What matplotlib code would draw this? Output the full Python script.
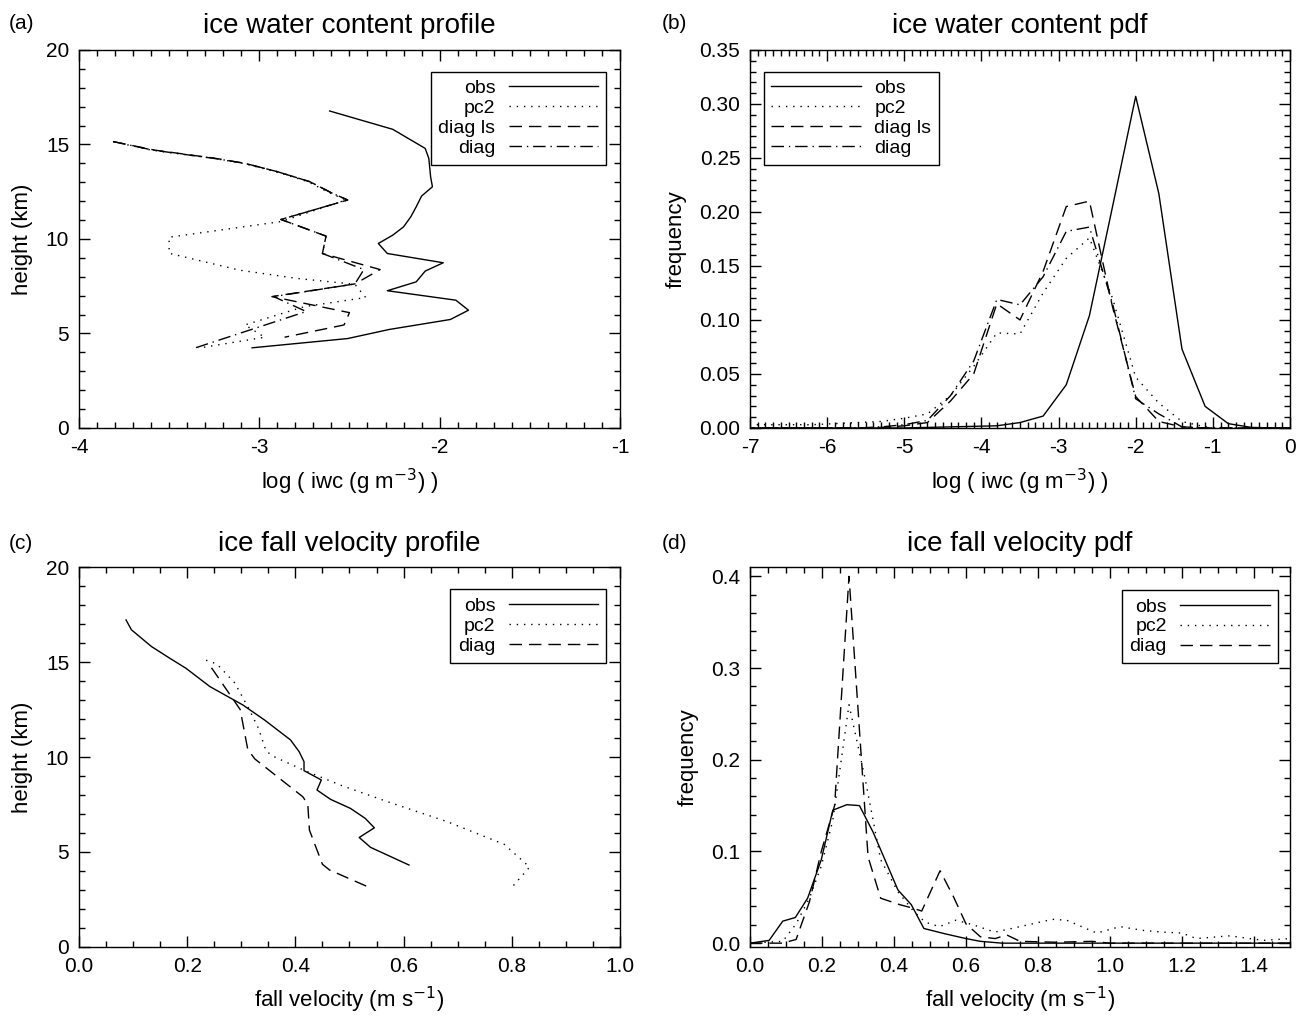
import matplotlib
matplotlib.use("Agg")
import matplotlib.pyplot as plt
from matplotlib.ticker import MultipleLocator, FormatStrFormatter

plt.rcParams["font.family"] = ["Liberation Sans", "DejaVu Sans"]
plt.rcParams["axes.unicode_minus"] = False

# (a) ice water content profile: log10(iwc) vs height (km)
obs_a_h = [16.77, 15.80, 14.79, 14.26, 13.29, 12.76, 12.27, 11.70, 11.17, 10.64, 10.20, 9.76,
           9.23, 8.74, 8.30, 7.73, 7.26, 6.76, 6.23, 5.74, 5.21, 4.73, 4.24]
obs_a_x = [-2.61, -2.26, -2.08, -2.06, -2.05, -2.04, -2.10, -2.13, -2.16, -2.20, -2.26, -2.34,
           -2.29, -1.98, -2.08, -2.13, -2.29, -1.91, -1.84, -1.94, -2.28, -2.51, -3.04]
pc2_a_h = [15.15, 14.70, 14.26, 14.00, 13.56, 13.03, 12.44, 12.06, 10.92, 10.09, 9.24, 8.35,
           7.91, 7.60, 6.90, 6.42, 5.45, 4.80, 4.22]
pc2_a_x = [-3.81, -3.60, -3.25, -3.09, -2.91, -2.73, -2.61, -2.52, -2.88, -3.50, -3.50, -3.11,
           -2.79, -2.47, -2.41, -2.75, -3.08, -2.97, -3.34]
diagls_a_h = [15.15, 14.70, 14.26, 14.00, 13.56, 13.03, 12.44, 12.06, 11.03, 10.15, 9.23, 8.38,
              7.62, 6.95, 6.10, 5.45, 4.80]
diagls_a_x = [-3.81, -3.58, -3.24, -3.08, -2.90, -2.72, -2.60, -2.51, -2.88, -2.63, -2.65, -2.33,
              -2.47, -2.93, -2.50, -2.53, -2.86]
diag_a_h = [15.15, 14.70, 14.26, 14.00, 13.56, 13.03, 12.44, 12.06, 11.03, 10.15, 9.23, 8.38,
            7.62, 6.95, 6.16, 5.19, 4.22]
diag_a_x = [-3.81, -3.59, -3.25, -3.08, -2.90, -2.72, -2.60, -2.51, -2.88, -2.63, -2.65, -2.42,
            -2.47, -2.92, -2.74, -3.05, -3.36]

# (b) ice water content pdf
iwc_bins = [-7.1, -6.8, -6.5, -6.2, -5.9, -5.6, -5.3, -5.0, -4.7, -4.4, -4.1, -3.8, -3.5,
            -3.2, -2.9, -2.6, -2.3, -2.0, -1.7, -1.4, -1.1, -0.8, -0.5, -0.2, 0.1]
obs_b = [0, 0, 0, 0, 0, 0, 0, 0, 0.0005, 0.001, 0.0015, 0.002, 0.005,
         0.011, 0.040, 0.104, 0.205, 0.307, 0.217, 0.073, 0.020, 0.004, 0.0005, 0, 0]
pc2_b = [0.003, 0.003, 0.003, 0.003, 0.004, 0.005, 0.006, 0.009, 0.013, 0.030, 0.057, 0.088, 0.087,
         0.125, 0.157, 0.176, 0.120, 0.047, 0.023, 0.006, 0.001, 0, 0, 0, 0]
diagls_b = [0, 0, 0, 0, 0, 0, 0.0005, 0.002, 0.005, 0.025, 0.050, 0.115, 0.100,
            0.145, 0.205, 0.210, 0.112, 0.029, 0.006, 0.001, 0, 0, 0, 0, 0]
diag_b = [0, 0, 0, 0, 0, 0, 0.001, 0.003, 0.007, 0.030, 0.062, 0.119, 0.114,
          0.140, 0.182, 0.186, 0.115, 0.027, 0.013, 0.001, 0, 0, 0, 0, 0]

# (c) ice fall velocity profile
obs_c_h = [17.22, 16.70, 15.82, 15.20, 14.67, 13.71, 12.74, 11.95, 10.90, 10.28, 9.75, 9.28,
           8.79, 8.26, 7.77, 7.29, 6.77, 6.27, 5.76, 5.24, 4.31]
obs_c_v = [0.087, 0.097, 0.134, 0.168, 0.198, 0.242, 0.303, 0.343, 0.391, 0.407, 0.416, 0.416,
           0.448, 0.440, 0.465, 0.502, 0.529, 0.546, 0.518, 0.539, 0.610]
pc2_c_h = [15.1, 14.9, 13.9, 12.6, 11.5, 10.3, 10.0, 9.3, 8.5, 7.6, 6.6, 5.4, 4.2, 3.1]
pc2_c_v = [0.235, 0.255, 0.288, 0.313, 0.332, 0.346, 0.362, 0.416, 0.485, 0.575, 0.680, 0.786,
           0.833, 0.799]
diag_c_h = [14.7, 12.5, 10.4, 9.9, 7.9, 7.5, 6.15, 5.4, 4.35, 4.05, 3.1]
diag_c_v = [0.245, 0.298, 0.312, 0.325, 0.414, 0.423, 0.426, 0.436, 0.450, 0.463, 0.539]

# (d) ice fall velocity pdf
obs_d_v = [0.0, 0.053, 0.091, 0.126, 0.160, 0.198, 0.230, 0.269, 0.304, 0.342, 0.411, 0.448,
           0.483, 0.544, 0.600, 0.640, 0.70, 1.5]
obs_d_f = [0.0, 0.003, 0.024, 0.028, 0.049, 0.091, 0.145, 0.151, 0.150, 0.121, 0.058, 0.042,
           0.016, 0.010, 0.005, 0.002, 0.0, 0.0]
pc2_d_v = [0.0, 0.091, 0.128, 0.165, 0.198, 0.230, 0.275, 0.320, 0.363, 0.411, 0.454, 0.486,
           0.526, 0.572, 0.62, 0.68, 0.75, 0.84, 0.88, 0.963, 1.028, 1.09, 1.148, 1.20, 1.24,
           1.333, 1.426, 1.5]
pc2_d_f = [0.0, 0.002, 0.021, 0.049, 0.084, 0.134, 0.260, 0.179, 0.091, 0.056, 0.035, 0.023,
           0.018, 0.025, 0.020, 0.012, 0.018, 0.026, 0.025, 0.011, 0.018, 0.014, 0.012, 0.011, 0.005,
           0.008, 0.003, 0.005]
diag_d_v = [0.0, 0.09, 0.128, 0.165, 0.198, 0.235, 0.275, 0.328, 0.363, 0.416, 0.454, 0.477,
            0.528, 0.566, 0.600, 0.640, 0.681, 0.713, 0.750, 0.85, 0.95, 1.0, 1.5]
diag_d_f = [0, 0, 0.004, 0.045, 0.100, 0.150, 0.400, 0.094, 0.049, 0.042, 0.038, 0.035,
            0.079, 0.050, 0.021, 0.007, 0.005, 0.009, 0.002, 0.001, 0.002, 0, 0]

# line styles (IDL-like)
SOLID = "-"
DOT = (0, (1, 4.2))
DASH = (0, (9, 5))
DASHDOT = (0, (9, 3.5, 1, 3.5))
LW = 1.0

TICK_FS = 15
LABEL_FS = 16
TITLE_FS = 20
LEG_FS = 14

fig = plt.figure(figsize=(13.03, 10.17), dpi=100)
ax_a = fig.add_axes([0.0606, 0.5792, 0.4152, 0.3717])
ax_b = fig.add_axes([0.5756, 0.5792, 0.4144, 0.3717])
ax_c = fig.add_axes([0.0606, 0.0690, 0.4152, 0.3733])
ax_d = fig.add_axes([0.5756, 0.0690, 0.4144, 0.3733])


def style(ax, xmaj, xmin, ymaj, ymin, xfmt, yfmt):
    ax.xaxis.set_major_locator(MultipleLocator(xmaj))
    ax.xaxis.set_minor_locator(MultipleLocator(xmin))
    ax.yaxis.set_major_locator(MultipleLocator(ymaj))
    ax.yaxis.set_minor_locator(MultipleLocator(ymin))
    ax.xaxis.set_major_formatter(FormatStrFormatter(xfmt))
    ax.yaxis.set_major_formatter(FormatStrFormatter(yfmt))
    ax.tick_params(which="both", direction="in", top=True, right=True,
                   labelsize=TICK_FS, width=1.0)
    ax.tick_params(which="major", length=8, pad=7)
    ax.tick_params(which="minor", length=4)
    for s in ax.spines.values():
        s.set_linewidth(1.0)


def legend(ax, markerfirst, loc, anchor):
    leg = ax.legend(loc=loc, bbox_to_anchor=anchor, markerfirst=markerfirst, fancybox=False,
                    framealpha=1, edgecolor="black", fontsize=LEG_FS, handlelength=4.6,
                    handletextpad=0.7, labelspacing=0.12, borderpad=0.4, borderaxespad=0)
    leg.get_frame().set_linewidth(1.0)


# panel (a)
ax_a.plot(obs_a_x, obs_a_h, color="black", lw=LW, ls=SOLID, label="obs")
ax_a.plot(pc2_a_x, pc2_a_h, color="black", lw=LW, ls=DOT, label="pc2")
ax_a.plot(diagls_a_x, diagls_a_h, color="black", lw=LW, ls=DASH, label="diag ls")
ax_a.plot(diag_a_x, diag_a_h, color="black", lw=LW, ls=DASHDOT, label="diag")
ax_a.set_xlim(-4, -1)
ax_a.set_ylim(0, 20)
style(ax_a, 1, 0.1, 5, 1, "%d", "%d")
ax_a.set_xlabel("log ( iwc (g m$^{-3}$) )", fontsize=LABEL_FS, labelpad=7)
ax_a.set_ylabel("height (km)", fontsize=LABEL_FS, labelpad=9)
ax_a.set_title("ice water content profile", fontsize=TITLE_FS, pad=12)
legend(ax_a, False, "upper right", (0.9745, 0.9426))

# panel (b)
ax_b.plot(iwc_bins, obs_b, color="black", lw=LW, ls=SOLID, label="obs")
ax_b.plot(iwc_bins, pc2_b, color="black", lw=LW, ls=DOT, label="pc2")
ax_b.plot(iwc_bins, diagls_b, color="black", lw=LW, ls=DASH, label="diag ls")
ax_b.plot(iwc_bins, diag_b, color="black", lw=LW, ls=DASHDOT, label="diag")
ax_b.set_xlim(-7, 0)
ax_b.set_ylim(0, 0.35)
style(ax_b, 1, 0.1, 0.05, 0.01, "%d", "%.2f")
ax_b.set_xlabel("log ( iwc (g m$^{-3}$) )", fontsize=LABEL_FS, labelpad=7)
ax_b.set_ylabel("frequency", fontsize=LABEL_FS, labelpad=9)
ax_b.set_title("ice water content pdf", fontsize=TITLE_FS, pad=12)
legend(ax_b, True, "upper left", (0.025, 0.9426))

# panel (c)
ax_c.plot(obs_c_v, obs_c_h, color="black", lw=LW, ls=SOLID, label="obs")
ax_c.plot(pc2_c_v, pc2_c_h, color="black", lw=LW, ls=DOT, label="pc2")
ax_c.plot(diag_c_v, diag_c_h, color="black", lw=LW, ls=DASH, label="diag")
ax_c.set_xlim(0, 1)
ax_c.set_ylim(0, 20)
style(ax_c, 0.2, 0.05, 5, 1, "%.1f", "%d")
ax_c.set_xlabel("fall velocity (m s$^{-1}$)", fontsize=LABEL_FS, labelpad=7)
ax_c.set_ylabel("height (km)", fontsize=LABEL_FS, labelpad=9)
ax_c.set_title("ice fall velocity profile", fontsize=TITLE_FS, pad=12)
legend(ax_c, False, "upper right", (0.9745, 0.9413))

# panel (d)
ax_d.plot(obs_d_v, obs_d_f, color="black", lw=LW, ls=SOLID, label="obs")
ax_d.plot(pc2_d_v, pc2_d_f, color="black", lw=LW, ls=DOT, label="pc2")
ax_d.plot(diag_d_v, diag_d_f, color="black", lw=LW, ls=DASH, label="diag")
ax_d.set_xlim(0, 1.5)
ax_d.set_ylim(-0.004, 0.41)
style(ax_d, 0.2, 0.05, 0.1, 0.02, "%.1f", "%.1f")
ax_d.set_xlabel("fall velocity (m s$^{-1}$)", fontsize=LABEL_FS, labelpad=7)
ax_d.set_ylabel("frequency", fontsize=LABEL_FS, labelpad=9)
ax_d.set_title("ice fall velocity pdf", fontsize=TITLE_FS, pad=12)
legend(ax_d, False, "upper right", (0.9772, 0.9395))

# panel letters
for x, y, s in [(0.0065, 0.977, "(a)"), (0.508, 0.977, "(b)"),
                (0.0065, 0.466, "(c)"), (0.508, 0.466, "(d)")]:
    fig.text(x, y, s, fontsize=15, va="center", ha="left")

fig.savefig("out.png", dpi=100)
